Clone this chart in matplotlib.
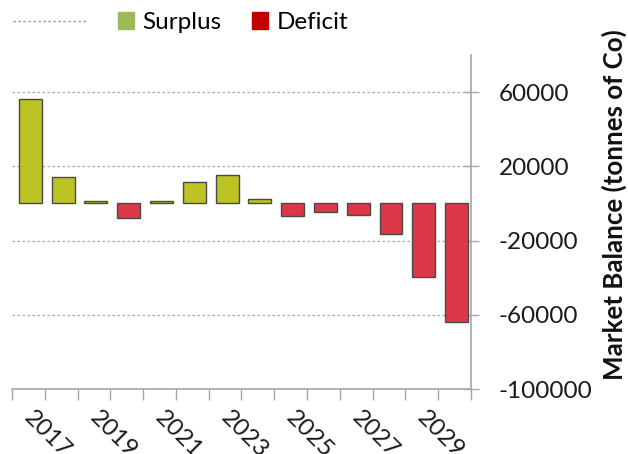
import numpy as np
import matplotlib.pyplot as plt
from matplotlib.lines import Line2D
from matplotlib.patches import Patch

# ============================================================
# Data
# ============================================================
YEARS = list(range(2017, 2031))
BALANCE = [56000, 14000, 1500, -8000, 1500, 11600, 15100, 2400,
           -6700, -4400, -6000, -16500, -39500, -64000]
Y_TICKS = [60000, 20000, -20000, -60000, -100000]
Y_LABEL = "Market Balance (tonnes of Co)"

SURPLUS_BAR = "#BCC322"
DEFICIT_BAR = "#DC3747"
SURPLUS_LEG = "#9BBB59"
DEFICIT_LEG = "#C00000"
GRID_COLOR = "#A6A6A6"
FS = 17.5

plt.rcParams['font.family'] = ['Lato', 'DejaVu Sans']

fig = plt.figure(figsize=(6.28, 4.54), dpi=100)
ax = fig.add_axes([0.019, 0.143, 0.731, 0.736])

x = np.arange(len(YEARS))
vals = np.array(BALANCE)
colors = [SURPLUS_BAR if v >= 0 else DEFICIT_BAR for v in vals]
ax.bar(x + 0.06, vals, width=0.7, color=colors, edgecolor="#4a4a4a",
       linewidth=1.0, zorder=3)

ax.set_xlim(-0.5, len(YEARS) - 0.5)
ax.set_ylim(-100000, 80000)

# y axis on the right
ax.yaxis.tick_right()
ax.set_yticks(Y_TICKS)
ax.set_yticklabels([str(t) for t in Y_TICKS], fontsize=FS, color="#1a1a1a")
ax.tick_params(axis='y', direction='inout', length=12, width=1,
               color=GRID_COLOR, pad=14)
for t in Y_TICKS[:-1]:
    ax.axhline(t, color=GRID_COLOR, linestyle=(0, (2, 2)), linewidth=0.9,
               zorder=1)

# x axis: boundary tick marks, labels every other year
# (label anchors nudged right so the rotated text starts near bar centre)
ax.set_xticks(np.arange(-0.5, len(YEARS), 1.0), minor=True)
ax.set_xticks(x[::2] + 0.2)
ax.set_xticklabels([str(y) for y in YEARS[::2]], rotation=-45,
                   ha='left', va='top', rotation_mode='anchor',
                   fontsize=FS, color="#1a1a1a")
ax.tick_params(axis='x', which='major', length=0, pad=13)
ax.tick_params(axis='x', which='minor', direction='out', length=8,
               width=1, color=GRID_COLOR)

for side in ['top', 'left']:
    ax.spines[side].set_visible(False)
ax.spines['right'].set_color(GRID_COLOR)
ax.spines['bottom'].set_color(GRID_COLOR)
ax.spines['right'].set_linewidth(1.2)
ax.spines['bottom'].set_linewidth(1.2)

fig.text(0.978, 0.55, Y_LABEL, rotation=90, fontsize=18.6,
         fontweight='bold', ha='center', va='center', color="#111111")

# legend: gridline entry + surplus / deficit
grid_handle = Line2D([], [], color=GRID_COLOR, linestyle=(0, (2, 2)),
                     linewidth=0.9)
leg1 = fig.legend(handles=[grid_handle], labels=[''], loc='center left',
                  bbox_to_anchor=(0.021, 0.95), frameon=False,
                  borderpad=0, borderaxespad=0,
                  handlelength=3.0, fontsize=FS)
fig.add_artist(leg1)
fig.legend(handles=[Patch(color=SURPLUS_LEG), Patch(color=DEFICIT_LEG)],
           labels=['Surplus', 'Deficit'], loc='center left',
           bbox_to_anchor=(0.188, 0.95), frameon=False, ncol=2,
           borderpad=0, borderaxespad=0,
           handlelength=0.66, handleheight=0.66, handletextpad=0.33,
           columnspacing=1.28, fontsize=FS)

fig.savefig("out.png", dpi=100)
